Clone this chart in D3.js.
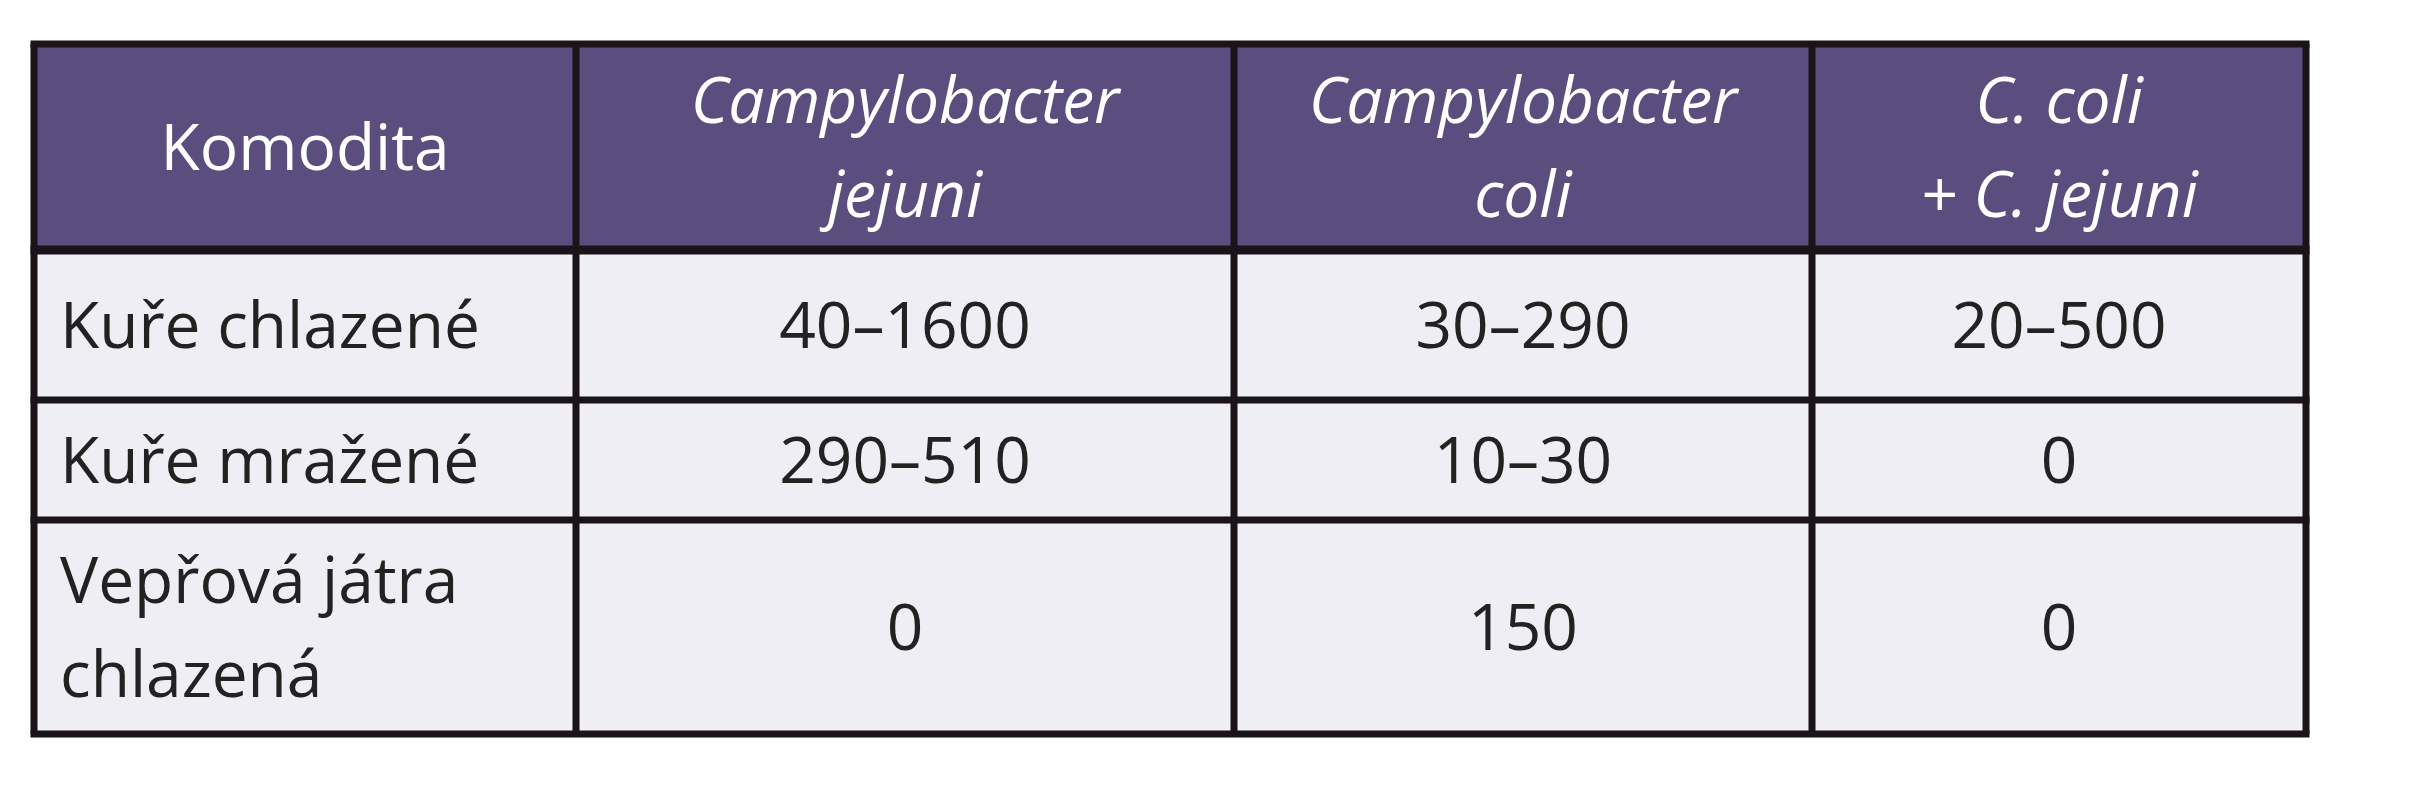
<!DOCTYPE html><html><head><meta charset="utf-8"><script src="https://cdn.jsdelivr.net/npm/d3@7"></script>
<style>body{margin:0;background:#fff}</style></head><body><svg id="c" width="2436" height="800"></svg>
<script>
const headers=[["Komodita"],["Campylobacter","jejuni"],["Campylobacter","coli"],["C. coli","+ C. jejuni"]];
const commodities=[["Kuře chlazené"],["Kuře mražené"],["Vepřová játra","chlazená"]];
const jejuni=["40–1600","290–510","0"];
const coli=["30–290","10–30","150"];
const both=["20–500","0","0"];

const svg=d3.select("#c");
const colEdges=[34,576,1234,1812,2306];
const rowEdges=[44,250,400,520,734];
const x=d3.scaleOrdinal().domain([0,1,2,3]).range(colEdges.slice(0,4));
const xr=d3.scaleOrdinal().domain([0,1,2,3]).range(colEdges.slice(1));
const y=d3.scaleOrdinal().domain([0,1,2,3]).range(rowEdges.slice(0,4));
const yb=d3.scaleOrdinal().domain([0,1,2,3]).range(rowEdges.slice(1));
const rows=commodities.map((c,i)=>[c,[jejuni[i]],[coli[i]],[both[i]]]);
const all=[headers].concat(rows);
const font="'Open Sans', sans-serif", fs=64, lh=94;
all.forEach((r,ri)=>{
  r.forEach((cell,ci)=>{
    const x0=x(ci),x1=xr(ci),y0=y(ri),y1=yb(ri);
    svg.append("rect").attr("x",x0).attr("y",y0).attr("width",x1-x0).attr("height",y1-y0)
      .attr("fill",ri===0?"#5b4d7e":"#efeef5");
    const left=(ri>0&&ci===0);
    const tx=left?x0+26:(x0+x1)/2;
    const cy=(y0+y1)/2;
    const t=svg.append("text").attr("x",tx).attr("text-anchor",left?"start":"middle")
      .attr("font-family",font).attr("font-size",fs)
      .attr("fill",ri===0?"#fff":"#222")
      .attr("font-style",ri===0&&ci>0?"italic":"normal");
    cell.forEach((line,li)=>{
      t.append("tspan").attr("x",tx).attr("y",cy+(li-(cell.length-1)/2)*lh+fs*0.36).text(line);
    });
  });
});
// grid lines
svg.selectAll(".v").data(colEdges).join("line").attr("x1",d=>d).attr("x2",d=>d)
  .attr("y1",rowEdges[0]).attr("y2",rowEdges[4]).attr("stroke","#1a1418").attr("stroke-width",7);
svg.selectAll(".h").data(rowEdges).join("line").attr("y1",d=>d).attr("y2",d=>d)
  .attr("x1",colEdges[0]-3.5).attr("x2",colEdges[4]+3.5).attr("stroke","#1a1418").attr("stroke-width",d=>d===rowEdges[1]?9:7);
</script></body></html>
